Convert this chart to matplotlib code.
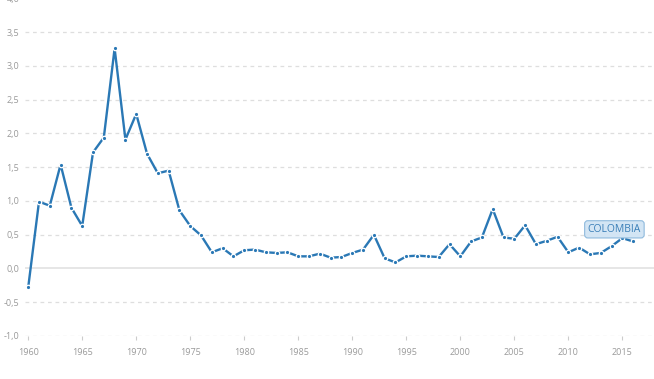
import numpy as np
from matplotlib import pyplot as plt

plt.rcParams['font.family'] = ['Open Sans', 'DejaVu Sans']

years = np.arange(1960, 2017)
values = [-0.28, 0.99, 0.93, 1.54, 0.90, 0.63, 1.72, 1.94, 3.26, 1.91,
          2.29, 1.70, 1.41, 1.45, 0.86, 0.63, 0.49, 0.24, 0.30, 0.18,
          0.27, 0.28, 0.24, 0.23, 0.24, 0.18, 0.18, 0.22, 0.16, 0.17,
          0.23, 0.28, 0.50, 0.15, 0.09, 0.18, 0.19, 0.18, 0.17, 0.36,
          0.18, 0.40, 0.46, 0.88, 0.46, 0.44, 0.64, 0.36, 0.41, 0.47,
          0.24, 0.31, 0.21, 0.23, 0.33, 0.45, 0.40]
yticks = [-1.0, -0.5, 0.0, 0.5, 1.0, 1.5, 2.0, 2.5, 3.0, 3.5, 4.0]
xticks = list(range(1960, 2016, 5))
country = "COLOMBIA"

blue = '#2a78b5'
grey = '#9a9a9a'

fig = plt.figure(figsize=(6.54, 3.79), dpi=100)
ax = fig.add_axes([0.038, 0.1135, 0.962, 0.8905])
ax.set_xlim(1959.69, 2017.93)
ax.set_ylim(-1.0, 4.0)

for v in yticks:
    if v == 0.0:
        ax.axhline(v, color='#e4e4e4', lw=1.3, zorder=1)
    else:
        ax.axhline(v, color='#dedede', lw=0.9, ls=(0, (3, 3)), zorder=1)

ax.plot(years, values, color=blue, lw=1.7, marker='o', ms=3.2,
        mfc=blue, mec='white', mew=0.9, zorder=3)

ax.set_yticks(yticks)
ax.set_yticklabels([f"{v:.1f}".replace('.', ',') for v in yticks])
ax.set_xticks(xticks)
ax.set_xticklabels([str(x) for x in xticks])
ax.tick_params(axis='y', length=0, labelsize=6.5, labelcolor=grey, pad=4)
ax.tick_params(axis='x', length=3, color='#cccccc', labelsize=6.5,
               labelcolor=grey, pad=6)
for s in ax.spines.values():
    s.set_visible(False)

# label sits just above the last points of the series
ax.text(2011.8, values[-2] + 0.13, country, fontsize=7.5, color='#3a7fb8',
        va='center', ha='left', zorder=4,
        bbox=dict(boxstyle='round,pad=0.3', fc='#d3e5f4', ec='#8fbadd', lw=0.8))

fig.savefig('out.png', dpi=100)
